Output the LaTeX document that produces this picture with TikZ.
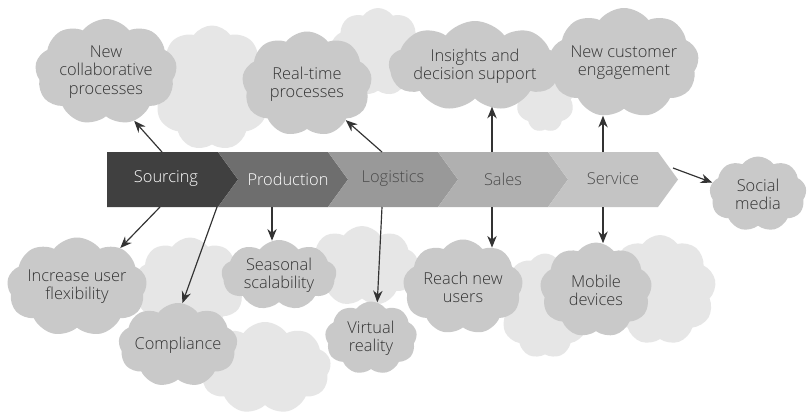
\documentclass[tikz,border=0pt]{standalone}
\usepackage{fontspec}
\IfFontExistsTF{Open Sans Light}{\setmainfont{Open Sans Light}}{\setmainfont{Open Sans}}
\usepackage{tikz}
\usetikzlibrary{arrows.meta,shapes.symbols}
\definecolor{ink}{HTML}{333333}
\definecolor{puffgrey}{HTML}{C9C9C9}
\definecolor{hazegrey}{HTML}{E6E6E6}
\tikzset{
  ideacloud/.style={cloud,cloud puffs=9,cloud puff arc=105,cloud ignores aspect,fill=puffgrey,
    align=center,text=ink,inner sep=0pt},
  bgcloud/.style={cloud,cloud puffs=9,cloud puff arc=110,cloud ignores aspect,fill=hazegrey},
  sz/.style 2 args={minimum width=#1*0.03cm,minimum height=#2*0.03cm},
  stagelabel/.style={text=#1}
}

\begin{document}
\begin{tikzpicture}[x=0.03cm,y=-0.03cm,>={Stealth[length=10pt,width=8pt]},
    every node/.style={font=\fontsize{14}{15.5}\selectfont}]
    \fill[white] (0,0) rectangle (807,415);
    \useasboundingbox (0,0) rectangle (807,415);

    \node[bgcloud,sz={120}{125}] (bg1) at (212,88) {};
    \node[bgcloud,sz={95}{88}] (bg2) at (378,52) {};
    \node[bgcloud,sz={62}{78}] (bg3) at (545,93) {};
    \node[bgcloud,sz={112}{95}] (bg4) at (190,285) {};
    \node[bgcloud,sz={112}{80}] (bg5) at (362,266) {};
    \node[bgcloud,sz={132}{92}] (bg6) at (265,368) {};
    \node[bgcloud,sz={92}{105}] (bg7) at (545,306) {};
    \node[bgcloud,sz={112}{110}] (bg8) at (660,290) {};

    \node[ideacloud,sz={142}{106}] (collab) at (106,72) {New\\collaborative\\processes};
    \node[ideacloud,sz={130}{105}] (realtime) at (307,84) {Real-time\\processes};
    \node[ideacloud,sz={140}{90}] (insights) at (475,66) {Insights and\\decision support};
    \node[ideacloud,sz={138}{110}] (engage) at (624,63) {New customer\\engagement};
    \node[ideacloud,sz={97}{75}] (social) at (758,194) {Social\\media};
    \node[ideacloud,sz={140}{99}] (flex) at (77,287) {Increase user\\flexibility};
    \node[ideacloud,sz={103}{84}] (compliance) at (178,345) {Compliance};
    \node[ideacloud,sz={115}{70}] (seasonal) at (279,275) {Seasonal\\scalability};
    \node[ideacloud,sz={92}{73}] (virtual) at (371,338) {Virtual\\reality};
    \node[ideacloud,sz={120}{95}] (reach) at (463,287) {Reach new\\users};
    \node[ideacloud,sz={112}{95}] (mobile) at (596,290) {Mobile\\devices};

    \fill[black!75] (107,152) -- (218,152) -- (238,179.5) -- (218,207) -- (107,207) -- cycle;
    \fill[black!57] (218,152) -- (328,152) -- (348,179.5) -- (328,207) -- (218,207) -- (238,179.5) -- cycle;
    \fill[black!40] (328,152) -- (438,152) -- (458,179.5) -- (438,207) -- (328,207) -- (348,179.5) -- cycle;
    \fill[black!31] (438,152) -- (548,152) -- (568,179.5) -- (548,207) -- (438,207) -- (458,179.5) -- cycle;
    \fill[black!23] (548,152) -- (658,152) -- (678,179.5) -- (658,207) -- (548,207) -- (568,179.5) -- cycle;

    \node[stagelabel=white] (sourcing) at (166,179) {Sourcing};
    \node[stagelabel=white] (production) at (288,179) {Production};
    \node[stagelabel=black!70] (logistics) at (393,179) {Logistics};
    \node[stagelabel=black!70] (sales) at (503,179) {Sales};
    \node[stagelabel=black!70] (service) at (613,179) {Service};

    \coordinate (src-up) at (162,152);
    \coordinate (log-up) at (382,152);
    \coordinate (sal-up) at (492,152);
    \coordinate (srv-up) at (603,152);
    \coordinate (srv-out) at (673,168);
    \coordinate (src-dn) at (160,207);
    \coordinate (prd-dn1) at (217,207);
    \coordinate (prd-dn2) at (272,207);
    \coordinate (log-dn) at (382,207);
    \coordinate (sal-dn) at (492,207);
    \coordinate (srv-dn) at (603,207);

    \draw[->,ink,line width=1pt] (src-up) -- (collab.300);
    \draw[->,ink,line width=1pt] (log-up) -- (realtime.317);
    \draw[->,ink,line width=1pt] (sal-up) -- (sal-up |- insights.287);
    \draw[->,ink,line width=1pt] (srv-up) -- (srv-up |- engage.250);
    \draw[->,ink,line width=1pt] (srv-out) -- (social.166);
    \draw[->,ink,line width=1pt] (src-dn) -- (flex.42);
    \draw[->,ink,line width=1pt] (prd-dn1) -- (compliance.84);
    \draw[->,ink,line width=1pt] (prd-dn2) -- (prd-dn2 |- seasonal.101);
    \draw[->,ink,line width=1pt] (log-dn) -- (virtual.80);
    \draw[->,ink,line width=1pt] (sal-dn) -- (sal-dn |- reach.59);
    \draw[->,ink,line width=1pt] (srv-dn) -- (srv-dn |- mobile.82);
\end{tikzpicture}
\end{document}
